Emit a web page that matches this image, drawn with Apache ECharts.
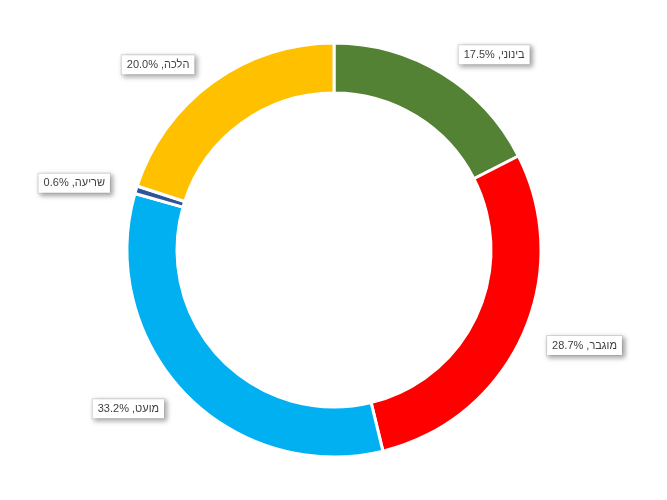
<!DOCTYPE html><html><head><meta charset="utf-8"><script src="https://cdn.jsdelivr.net/npm/echarts@6/dist/echarts.min.js"></script></head><body style="margin:0"><div id="c" style="width:667px;height:500px"></div><script>
const names=['בינוני','מוגבר','מועט','שריעה','הלכה'];
const values=[17.5,28.7,33.2,0.6,20.0];
const colors=['#548235','#FF0000','#00B0F0','#2F5597','#FFC000'];
const ch=echarts.init(document.getElementById('c'));
ch.setOption({series:[{type:'pie',center:[334,250],radius:[157,207],startAngle:90,clockwise:true,
itemStyle:{borderColor:'#fff',borderWidth:3},
label:{show:true,position:'outside',formatter:p=>p.name+', '+p.value.toFixed(1)+'%',fontFamily:'Liberation Sans',fontSize:11,color:'#404040',backgroundColor:'#fff',borderColor:'#d9d9d9',borderWidth:1,padding:[4,5],shadowColor:'rgba(0,0,0,0.35)',shadowBlur:5,shadowOffsetX:2,shadowOffsetY:2},
labelLine:{show:false,length:22,length2:0},
data:names.map((n,i)=>({name:n,value:values[i],itemStyle:{color:colors[i]}}))}]});
</script></body></html>
